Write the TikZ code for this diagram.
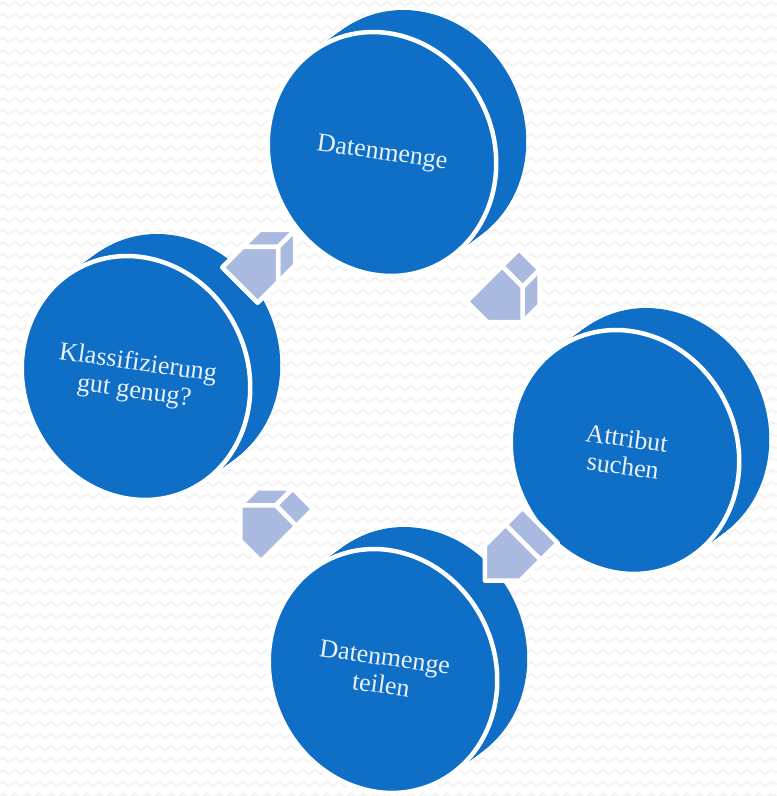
\documentclass[tikz,border=0pt]{standalone}
\usepackage{fontspec}
\setmainfont{Liberation Serif}
\usetikzlibrary{calc, decorations.pathmorphing}
\definecolor{discblue}{RGB}{15,111,198}
\definecolor{arrowblue}{RGB}{169,185,223}
\definecolor{labelwhite}{RGB}{234,241,250}
\definecolor{zigzaggray}{RGB}{241,241,241}

% one step of the cycle: a tilted disc with its label on the front face
\newcommand{\stepdisc}[3]{%
  \foreach \k in {0,...,20}
    \fill[discblue, shift={#2}, shift={(1.5*\k,1.1*\k)}, rotate=25] (0,0) ellipse [x radius=112, y radius=124];
  \path[stepface, shift={#2}, rotate=25] (0,0) ellipse [x radius=112, y radius=124];
  \node[steplabel] (#1) at #2 {#3};
}

% block arrow with depth; #4 lists the side faces that can be seen
\newcommand{\cyclearrow}[4]{%
  \begin{scope}[shift={#2}, rotate=#3]
    \coordinate (#1-1) at (-27,-25);
    \coordinate (#1-2) at (2,-25);
    \coordinate (#1-3) at (27,0);
    \coordinate (#1-4) at (2,25);
    \coordinate (#1-5) at (-27,25);
  \end{scope}
  \foreach \i/\j in {#4}
    \path[arrowface] (#1-\i) -- (#1-\j) -- ($(#1-\j)+(17,17)$) -- ($(#1-\i)+(17,17)$) -- cycle;
  \path[arrowface] (#1-1) -- (#1-2) -- (#1-3) -- (#1-4) -- (#1-5) -- cycle;
}

\begin{document}
\begin{tikzpicture}[
    x=1pt, y=1pt,
    stepface/.style={fill=discblue, draw=white, line width=4.5pt},
    steplabel/.style={text=labelwhite, align=center, rotate=-8, font=\fontsize{26}{28}\selectfont},
    arrowface/.style={fill=arrowblue, draw=white, line width=4.5pt, line join=round}
]
\useasboundingbox (0,0) rectangle (777,796);
\fill[white] (0,0) rectangle (777,796);

% wavy background
\foreach \r in {0,12,...,792}
  \draw[zigzaggray, line width=1.5pt, decorate, decoration={zigzag, segment length=12pt, amplitude=2.5pt}] (0,\r) -- (777,\r);

\stepdisc{dataset}{(382,642)}{Datenmenge}
\stepdisc{attribute}{(625,344)}{Attribut\\suchen}
\stepdisc{split}{(383,125)}{Datenmenge\\teilen}
\stepdisc{check}{(136,418)}{Klassifizierung\\gut genug?}

\cyclearrow{a1}{($(check)!0.5!(dataset)$)}{45}{2/3, 3/4}
\cyclearrow{a2}{($(dataset)!0.5!(attribute)$)}{-45}{3/4, 4/5}
\cyclearrow{a3}{($(attribute)!0.5!(split)$)}{225}{5/1}
\cyclearrow{a4}{($(split)!0.5!(check)$)}{135}{1/2, 2/3}
\end{tikzpicture}
\end{document}
